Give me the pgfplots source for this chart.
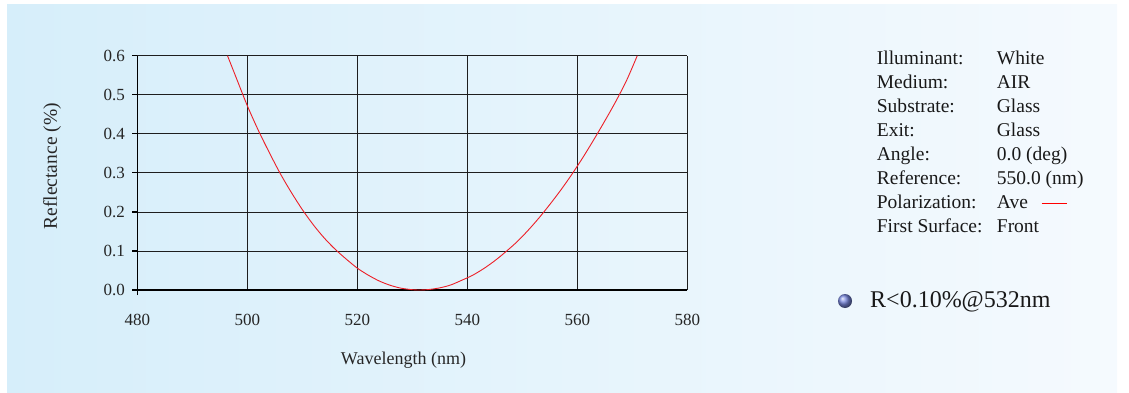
\documentclass[border=0pt]{standalone}
\usepackage{fontspec}
\setmainfont{Liberation Serif}
\usepackage{pgfplots}
\pgfplotsset{compat=1.18}
\definecolor{bgL}{RGB}{214,238,250}
\definecolor{bgR}{RGB}{245,250,254}
\definecolor{curvered}{RGB}{237,32,40}
\definecolor{gridc}{RGB}{30,30,30}
\newcommand{\axfont}{\fontsize{17bp}{20bp}\selectfont}
\newcommand{\xlabfont}{\fontsize{18bp}{21bp}\selectfont}
\newcommand{\ylabfont}{\fontsize{19.5bp}{22bp}\selectfont}
\newcommand{\infofont}{\fontsize{19.5bp}{22bp}\selectfont}
\begin{document}
\begin{tikzpicture}[x=1bp,y=1bp]
\path[use as bounding box] (0,0) rectangle (1129,392);
\shade[left color=bgL, right color=bgR] (7,0) rectangle (1117,387);
\begin{axis}[
  at={(137.3bp,102bp)}, anchor=south west,
  scale only axis, width=550bp, height=234.3bp,
  xmin=480, xmax=580, ymin=0, ymax=0.6,
  xtick={480,500,520,540,560,580},
  ytick={0,0.1,0.2,0.3,0.4,0.5,0.6},
  /pgf/number format/assume math mode=true,
  yticklabel style={/pgf/number format/fixed, /pgf/number format/fixed zerofill, /pgf/number format/precision=1},
  xticklabel style={/pgf/number format/set thousands separator={}},
  tick label style={font=\axfont, text=black!85},
  grid=major,
  major grid style={draw=gridc, line width=0.75bp},
  axis x line*=bottom, axis y line*=left,
  axis line style={line width=1.3bp, -, black},
  y axis line style={shorten <=-5bp},
  tick align=outside,
  major tick length=5bp,
  xtick style={draw=none},
  ytick style={line width=1.2bp, black},
  xticklabel style={yshift=-15.5bp},
  yticklabel style={xshift=-4bp},
  xlabel={Wavelength (nm)},
  ylabel={Reflectance (\%)},
  xlabel style={font=\xlabfont, text=black!85, at={(axis description cs:0.484,-0.30)}, anchor=center},
  ylabel style={font=\ylabfont, text=black!85, at={(axis description cs:-0.155,0.528)}, anchor=center},
  clip=true,
]
\addplot[curvered, line width=0.9bp, smooth] table {
x y
496.4 0.600
498.0 0.543
500.0 0.472
502.0 0.409
504.0 0.352
506.0 0.298
508.0 0.250
510.0 0.206
512.0 0.167
514.0 0.133
516.0 0.104
518.0 0.079
520.0 0.056
522.0 0.038
524.0 0.023
526.0 0.012
528.0 0.0045
530.0 0.0008
531.4 0.000
533.0 0.0012
535.0 0.0055
537.0 0.013
539.0 0.025
541.0 0.038
543.0 0.055
545.0 0.075
547.0 0.098
549.0 0.123
551.0 0.152
553.0 0.184
555.0 0.219
557.0 0.256
559.0 0.296
561.0 0.339
563.0 0.385
565.0 0.433
567.0 0.483
569.0 0.538
570.9 0.600
};
\end{axis}
\begin{scope}[every node/.style={font=\infofont, inner sep=0pt, anchor=base west, text=black!90}]
\node at (876.7,328.0) {Illuminant:};
\node at (876.7,303.9) {Medium:};
\node at (876.7,279.8) {Substrate:};
\node at (876.7,255.7) {Exit:};
\node at (876.7,231.6) {Angle:};
\node at (876.7,207.5) {Reference:};
\node at (876.7,183.4) {Polarization:};
\node at (876.7,159.3) {First Surface:};
\node at (996.7,328.0) {White};
\node at (996.7,303.9) {AIR};
\node at (996.7,279.8) {Glass};
\node at (996.7,255.7) {Glass};
\node at (996.7,231.6) {0.0 (deg)};
\node at (996.7,207.5) {550.0 (nm)};
\node at (996.7,183.4) {Ave};
\node at (996.7,159.3) {Front};
\end{scope}
\draw[draw=red, line width=1.6bp] (1041.7,188.5) -- (1066.7,188.5);
\shade[ball color={rgb,255:red,120;green,135;blue,220}] (845,91) circle (7);
\node[font=\fontsize{24bp}{28bp}\selectfont, inner sep=0pt, anchor=base west, text=black!90] at (870,84.7) {R<0.10\%@532nm};
\end{tikzpicture}
\end{document}
